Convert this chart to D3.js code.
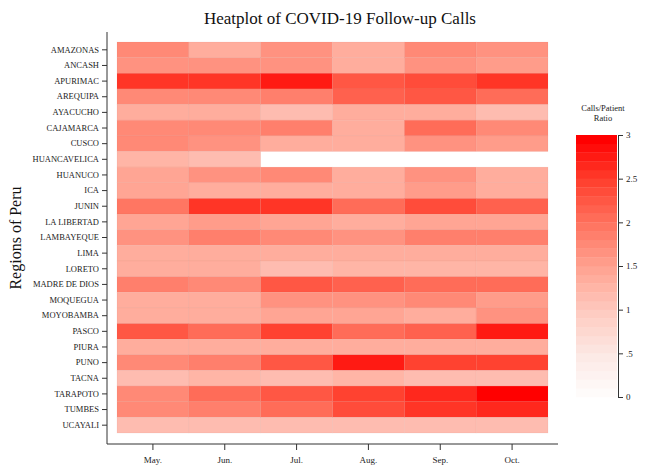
<!DOCTYPE html>
<html>
<head>
  <meta http-equiv="Content-Type" content="text/html;charset=utf-8" />
  <style type="text/css">
    body { margin: 0; background: #fff; }
    text { font-family: "Liberation Serif", "Times New Roman", serif; fill: #222; }
  </style>
</head>
<body>
  <div id="chart"></div>
  <script src="https://d3js.org/d3.v7.min.js"></script>
  <script type="text/javascript">
    var months = ["May.", "Jun.", "Jul.", "Aug.", "Sep.", "Oct."];
    var regions = ["AMAZONAS", "ANCASH", "APURIMAC", "AREQUIPA", "AYACUCHO", "CAJAMARCA", "CUSCO",
      "HUANCAVELICA", "HUANUCO", "ICA", "JUNIN", "LA LIBERTAD", "LAMBAYEQUE", "LIMA", "LORETO",
      "MADRE DE DIOS", "MOQUEGUA", "MOYOBAMBA", "PASCO", "PIURA", "PUNO", "TACNA", "TARAPOTO",
      "TUMBES", "UCAYALI"];
    // calls/patient ratio, one row per region, May..Oct (null = no data)
    var ratios = [
      [1.7, 1.3, 1.6, 1.3, 1.7, 1.6],
      [1.6, 1.6, 1.6, 1.35, 1.6, 1.5],
      [2.5, 2.5, 2.75, 2.2, 2.3, 2.5],
      [1.7, 1.7, 1.8, 2.1, 2.2, 2.0],
      [1.3, 1.3, 1.15, 1.3, 1.3, 1.15],
      [1.7, 1.7, 1.8, 1.35, 2.0, 1.7],
      [1.75, 1.65, 1.35, 1.35, 1.6, 1.55],
      [1.2, 1.15, null, null, null, null],
      [1.4, 1.6, 1.7, 1.35, 1.6, 1.35],
      [1.4, 1.35, 1.35, 1.35, 1.55, 1.35],
      [1.9, 2.5, 2.5, 2.05, 2.35, 2.15],
      [1.4, 1.55, 1.4, 1.35, 1.4, 1.4],
      [1.6, 1.8, 1.7, 1.6, 1.8, 1.8],
      [1.35, 1.3, 1.35, 1.35, 1.35, 1.35],
      [1.35, 1.3, 1.15, 1.2, 1.2, 1.2],
      [1.85, 1.75, 2.2, 2.1, 2.05, 2.05],
      [1.35, 1.35, 1.65, 1.6, 1.7, 1.55],
      [1.35, 1.35, 1.4, 1.45, 1.3, 1.65],
      [2.25, 2.05, 2.4, 2.05, 2.1, 2.7],
      [1.35, 1.35, 1.3, 1.35, 1.35, 1.3],
      [1.7, 1.8, 2.2, 2.75, 2.4, 2.4],
      [1.15, 1.2, 1.15, 1.2, 1.1, 1.15],
      [1.75, 2.05, 2.2, 2.4, 2.65, 3.0],
      [1.75, 1.85, 2.05, 2.3, 2.5, 2.6],
      [1.15, 1.15, 1.15, 1.15, 1.1, 1.15]
    ];
    var legendTicks = [0, 0.5, 1, 1.5, 2, 2.5, 3];
    var legendTickLabels = ["0", ".5", "1", "1.5", "2", "2.5", "3"];

    var w = 647, h = 467;
    var svg = d3.select("#chart").append("svg").attr("width", w).attr("height", h);

    var x = d3.scaleBand().domain(months).range([117, 548]).padding(0);
    var y = d3.scaleBand().domain(regions).range([42, 433]).padding(0);

    // white -> red ramp
    var ramp = d3.scaleLinear()
      .domain([0, 0.5, 1, 1.5, 2, 2.5, 3])
      .range(["#ffffff", "rgb(252,234,230)", "rgb(254,204,194)", "rgb(255,165,148)",
              "rgb(255,118,98)", "rgb(255,66,48)", "rgb(255,0,0)"])
      .interpolate(d3.interpolateRgb);

    var nSteps = 30;
    var stepColors = d3.range(nSteps).map(function (i) {
      return ramp((i + 1) * 3 / nSteps);
    });
    var color = d3.scaleQuantize().domain([0, 3]).range(stepColors);

    var cells = [];
    regions.forEach(function (r, i) {
      months.forEach(function (m, j) {
        if (ratios[i][j] != null) cells.push({ region: r, month: m, value: ratios[i][j] });
      });
    });

    svg.append("g").selectAll("rect").data(cells).enter().append("rect")
      .attr("x", function (d) { return x(d.month); })
      .attr("y", function (d) { return y(d.region); })
      .attr("width", x.bandwidth())
      .attr("height", y.bandwidth())
      .attr("fill", function (d) { return color(d.value); })
      .attr("stroke", "#c06050")
      .attr("stroke-opacity", 0.12)
      .attr("stroke-width", 0.6);

    // axes
    var yAxis = d3.axisLeft(y).tickSize(5).tickPadding(3);
    var gy = svg.append("g").attr("transform", "translate(107,0)").call(yAxis);
    gy.select(".domain").attr("d", "M0,32V444");
    gy.selectAll("text").style("font-size", "8.5px");

    var xAxis = d3.axisBottom(x).tickSize(6).tickPadding(7);
    var gx = svg.append("g").attr("transform", "translate(0,444)").call(xAxis);
    gx.select(".domain").attr("d", "M107,0H558");
    gx.selectAll("text").style("font-size", "9px");

    svg.selectAll(".domain, .tick line").attr("stroke", "#333").attr("stroke-width", 1);

    svg.append("text").attr("x", 340).attr("y", 24).attr("text-anchor", "middle")
      .style("font-size", "17px").style("fill", "#111").text("Heatplot of COVID-19 Follow-up Calls");

    svg.append("text").attr("transform", "translate(21,238) rotate(-90)").attr("text-anchor", "middle")
      .style("font-size", "16px").style("fill", "#111").text("Regions of Peru");

    // legend
    var ly = d3.scaleLinear().domain([0, 3]).range([397, 135]);
    var leg = svg.append("g");
    leg.selectAll("rect").data(stepColors).enter().append("rect")
      .attr("x", 576)
      .attr("y", function (d, i) { return ly((i + 1) * 3 / nSteps); })
      .attr("width", 41)
      .attr("height", function () { return ly(0) - ly(3 / nSteps) + 0.3; })
      .attr("fill", function (d) { return d; });

    var lAxis = d3.axisRight(ly).tickValues(legendTicks).tickSize(5).tickPadding(3)
      .tickFormat(function (d, i) { return legendTickLabels[i]; });
    var gl = svg.append("g").attr("transform", "translate(618,0)").call(lAxis);
    gl.selectAll("text").style("font-size", "9px");
    gl.selectAll(".domain, .tick line").attr("stroke", "#333");

    svg.append("text").attr("x", 603).attr("y", 111).attr("text-anchor", "middle")
      .style("font-size", "8.5px").text("Calls/Patient");
    svg.append("text").attr("x", 603).attr("y", 121).attr("text-anchor", "middle")
      .style("font-size", "8.5px").text("Ratio");
  </script>
</body>
</html>
